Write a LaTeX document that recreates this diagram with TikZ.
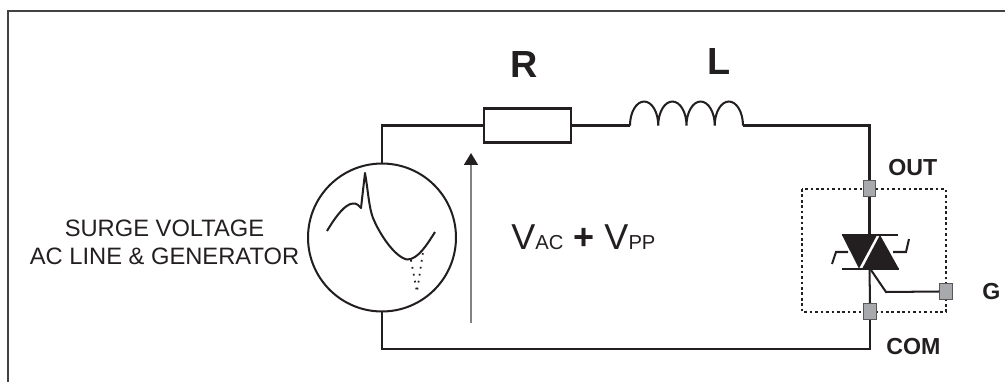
\documentclass[tikz,border=0pt]{standalone}
\usepackage{fontspec}
\setmainfont{Liberation Sans}
\usepackage{xcolor}
\usetikzlibrary{arrows.meta, positioning}
\definecolor{wireblack}{HTML}{231F20}
\definecolor{pingrey}{HTML}{A7A9AC}
\definecolor{sensegrey}{HTML}{808285}
\tikzset{
  wire/.style={line width=1.15pt, wireblack},
  pinbox/.style={draw=wireblack!75, line width=0.7pt, fill=pingrey, minimum width=0.25cm, minimum height=0.32cm, inner sep=0pt},
  biglabel/.style={font=\fontsize{21.5}{24}\selectfont\bfseries, text=wireblack, anchor=base, inner sep=0pt},
  pinlabel/.style={font=\fontsize{13.2}{16}\selectfont\bfseries, text=wireblack, anchor=base west, inner sep=0pt}
}
\begin{document}
\begin{tikzpicture}[x=0.02cm, y=-0.02cm]
  \useasboundingbox (0,0) rectangle (1005,382);

  % Frame (top and left only)
  \coordinate (frameA) at (8,382);
  \coordinate (frameB) at (8,11);
  \coordinate (frameC) at (1005,11);
  \draw[line width=1.1pt, wireblack!85] (frameA) -- (frameB) -- (frameC);

  % Generator
  \node[circle, draw=wireblack, line width=1.15pt, minimum size=2.96cm, inner sep=0pt] (gen) at (382,237.5) {};
  \node[align=center, font=\fontsize{13.5}{16}\selectfont, text=wireblack, inner sep=0pt] (genlabel) at (164.5,242) {SURGE VOLTAGE\\AC LINE \& GENERATOR};

  % Waveform
  \draw[wire, line join=round] (327,231) .. controls (336,216) and (345,204) .. (353,203.5)
    .. controls (357,203) and (359,206) .. (361,208) -- (365,173)
    .. controls (368,190) and (369,208) .. (373,218)
    .. controls (380,235) and (395,257) .. (407,259.5)
    .. controls (418,260) and (428,243) .. (435,232);
  \draw[line width=1pt, wireblack, dash pattern=on 1pt off 3pt] (411,260) -- (417,292) -- (423,252);

  % Resistor and inductor
  \node[draw=wireblack, line width=1.15pt, minimum width=1.74cm, minimum height=0.68cm, inner sep=0pt] (res) at (527.5,125.5) {};
  \node[biglabel] (reslabel) at (524,77) {R};
  \coordinate (indA) at (630,125.5);
  \coordinate (indB) at (743,125.5);
  \draw[wire] (indA) arc[start angle=180, end angle=0, x radius=0.2825cm, y radius=0.48cm]
    arc[start angle=180, end angle=0, x radius=0.2825cm, y radius=0.48cm]
    arc[start angle=180, end angle=0, x radius=0.2825cm, y radius=0.48cm]
    arc[start angle=180, end angle=0, x radius=0.2825cm, y radius=0.48cm];
  \node[biglabel] (indlabel) at (719,74) {L};

  % Protection device
  \draw[line width=1.6pt, wireblack, dash pattern=on 1.5pt off 1.6pt] (802,189) rectangle (946,312);
  \node[pinbox] (out) at (869.5,188.5) {};
  \node[pinbox] (com) at (870,311.5) {};
  \node[pinbox] (gate) at (946,291.5) {};
  \node[pinlabel] (outlabel) at (888,175) {OUT};
  \node[pinlabel] (comlabel) at (886,354) {COM};
  \node[pinlabel] (gatelabel) at (982,299) {G};

  % Triac
  \coordinate (triacT) at (869.5,235);
  \coordinate (triacB) at (869.5,269);
  \coordinate (triacG) at (871,270);
  \fill[wireblack] (842,235) -- (877,235) -- (859,268.5) -- cycle;
  \fill[wireblack] (880,235) -- (899,269) -- (862,269) -- cycle;
  \draw[wire] (842,235) -- (898,235);
  \draw[wire] (842,269) -- (899,269);
  \draw[wire] (832,264) -- (836,252) -- (848,252);
  \draw[wire] (909,239) -- (906,252) -- (893,252);

  % Connections
  \draw[wire] (gen.north) |- (res.west);
  \draw[wire] (res.east) -- (indA);
  \draw[wire] (indB) -| (out.north);
  \draw[wire] (out.south) -- (triacT);
  \draw[wire] (triacB) -- (com.north);
  \draw[wire] (com.south) |- (382,349) -- (gen.south);
  \draw[wire] (triacG) -- (886,292) -- (gate.west);

  % Voltage arrow
  \coordinate (senseA) at (471,323);
  \coordinate (senseB) at (471,153);
  \draw[-{Triangle[wireblack, length=0.24cm, width=0.28cm]}, line width=1pt, sensegrey] (senseA) -- (senseB);
  \node[anchor=base west, inner sep=0pt, text=wireblack, font=\fontsize{20.5}{24}\selectfont] (vlabel) at (511,249)
    {V{\fontsize{11.5}{14}\selectfont AC} {\bfseries +} V{\fontsize{11.5}{14}\selectfont PP}};
\end{tikzpicture}
\end{document}
